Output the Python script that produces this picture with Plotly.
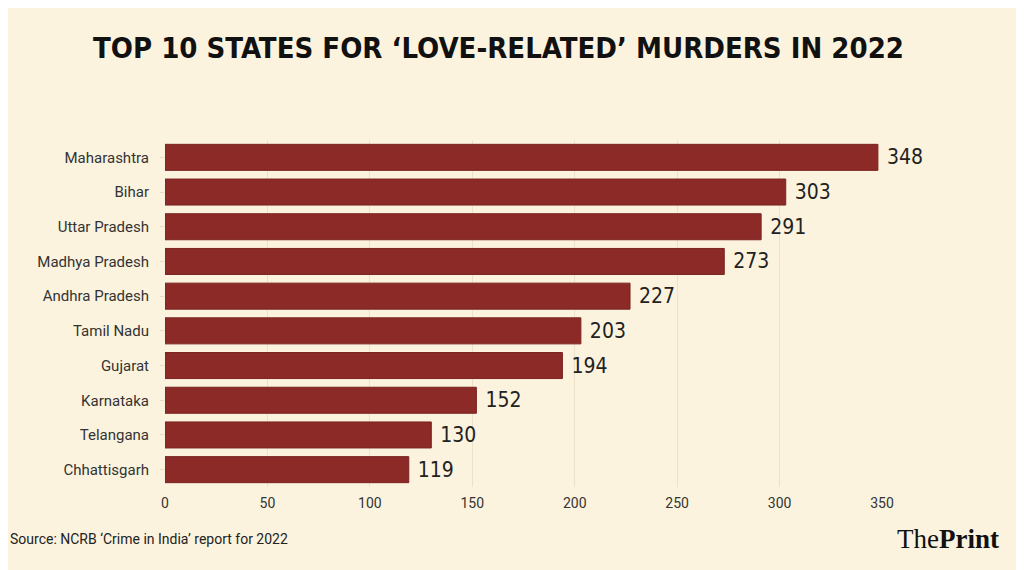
import plotly.graph_objects as go

states = ["Maharashtra", "Bihar", "Uttar Pradesh", "Madhya Pradesh", "Andhra Pradesh",
          "Tamil Nadu", "Gujarat", "Karnataka", "Telangana", "Chhattisgarh"]
murders = [348, 303, 291, 273, 227, 203, 194, 152, 130, 119]
x_ticks = [0, 50, 100, 150, 200, 250, 300, 350]

title_text = "TOP 10 STATES FOR ‘LOVE-RELATED’ MURDERS IN 2022"
source_text = "Source: NCRB ‘Crime in India’ report for 2022"

bg = "#fcf3df"
bar_color = "#8b2a27"
cond = "DejaVu Sans Condensed, Roboto, sans-serif"

fig = go.Figure(go.Bar(
    x=murders, y=states, orientation="h",
    marker=dict(color=bar_color, line=dict(color="#7a2320", width=1)),
    texttemplate=" %{x}", textposition="outside",
    textfont=dict(family=cond, size=21, color="#222222"),
    cliponaxis=False,
))

fig.update_layout(
    width=1024, height=570,
    paper_bgcolor=bg, plot_bgcolor=bg,
    margin=dict(l=157, r=150, t=132, b=91),
    bargap=0.25,
    showlegend=False,
    xaxis=dict(range=[0, 350], tickvals=x_ticks, showgrid=True, gridcolor="#ece2cc",
               zeroline=False, showline=False,
               tickfont=dict(family="Roboto", size=14, color="#333333"),
               ticks="", ticklabelstandoff=6),
    yaxis=dict(autorange="reversed", showgrid=False, zeroline=False,
               tickfont=dict(family="Roboto", size=15, color="#333333"),
               ticks="outside", ticklen=4, tickcolor="#e6dcc6", ticklabelstandoff=8),
)

fig.add_annotation(text="<b>" + title_text + "</b>", xref="paper", yref="paper",
                   x=0.5, xshift=-25, y=1.0, yshift=92, xanchor="center", yanchor="middle",
                   showarrow=False,
                   font=dict(family=cond, size=29, color="#111111"))
fig.add_annotation(text=source_text, xref="paper", yref="paper",
                   x=0, xshift=-157, y=0, yshift=-52, xanchor="left", yanchor="middle",
                   showarrow=False,
                   font=dict(family="Roboto", size=14, color="#222222"))
fig.add_annotation(text="The<b>Print</b>", xref="paper", yref="paper",
                   x=1, xshift=119, y=0, yshift=-52, xanchor="right", yanchor="middle",
                   showarrow=False,
                   font=dict(family="Liberation Serif", size=27, color="#111111"))

fig.write_html("out.html")
